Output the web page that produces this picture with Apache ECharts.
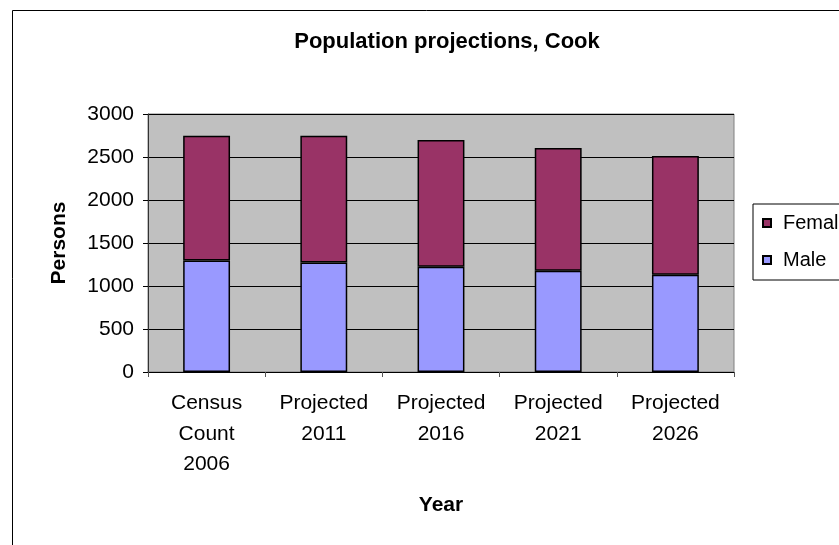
<!DOCTYPE html>
<html>
<head>
<meta charset="utf-8">
<script src="https://cdn.jsdelivr.net/npm/echarts@6/dist/echarts.min.js"></script>
<style>html,body{margin:0;padding:0;background:#fff}#c{width:839px;height:545px}</style>
</head>
<body>
<div id="c"></div>
<script>
var categories = ['Census\nCount\n2006', 'Projected\n2011', 'Projected\n2016', 'Projected\n2021', 'Projected\n2026'];
var male = [1297, 1273, 1225, 1178, 1130];
var female = [1451, 1475, 1473, 1427, 1382];
var yTicks = [0, 500, 1000, 1500, 2000, 2500, 3000];

var chart = echarts.init(document.getElementById('c'));
var font = 'Liberation Sans, Arial, sans-serif';
chart.setOption({
  animation: false,
  backgroundColor: '#fff',
  textStyle: {fontFamily: font},
  title: {
    text: 'Population projections, Cook',
    left: 442, top: 26, textAlign: 'center',
    textStyle: {fontFamily: font, fontSize: 22, fontWeight: 'bold', color: '#000'}
  },
  graphic: [{
    type: 'rect', z: -1, silent: true,
    shape: {x: 12.5, y: 10.5, width: 900, height: 600},
    style: {fill: 'none', stroke: '#000', lineWidth: 1}
  }],
  legend: {
    data: ['Female', 'Male'],
    orient: 'vertical',
    left: 753, top: 204,
    padding: [9, 30, 10, 9],
    itemGap: 17,
    itemWidth: 8, itemHeight: 8,
    icon: 'rect',
    borderColor: '#000', borderWidth: 1,
    textStyle: {fontFamily: font, fontSize: 20, color: '#000', padding: [0, 0, 0, 7]}
  },
  grid: {
    left: 148, top: 114, right: 105, bottom: 173,
    show: true, backgroundColor: '#c0c0c0', borderColor: '#808080', borderWidth: 1
  },
  xAxis: {
    type: 'category', data: categories,
    name: 'Year', nameLocation: 'middle', nameGap: 123,
    nameTextStyle: {fontFamily: font, fontSize: 21, fontWeight: 'bold', color: '#000'},
    axisLine: {lineStyle: {color: '#000', width: 1}},
    axisTick: {show: true, length: 5, lineStyle: {color: '#555'}},
    axisLabel: {fontFamily: font, fontSize: 21, color: '#000', margin: 16, lineHeight: 30.5, interval: 0}
  },
  yAxis: {
    type: 'value', min: yTicks[0], max: yTicks[yTicks.length - 1], interval: 500,
    name: 'Persons', nameLocation: 'middle', nameGap: 78, nameRotate: 90,
    nameTextStyle: {fontFamily: font, fontSize: 21, fontWeight: 'bold', color: '#000'},
    axisLine: {show: true, lineStyle: {color: '#333', width: 1}},
    axisTick: {show: true, length: 5, lineStyle: {color: '#000'}},
    axisLabel: {fontFamily: font, fontSize: 21, color: '#000', margin: 14,
      formatter: function (v) { return String(v); }},
    splitLine: {show: true, lineStyle: {color: '#000', width: 1}}
  },
  series: [{
    name: 'Male', type: 'bar', stack: 'total', data: male, barWidth: '40%',
    itemStyle: {color: '#9999ff', borderColor: '#000', borderWidth: 1.5}
  }, {
    name: 'Female', type: 'bar', stack: 'total', data: female, barWidth: '40%',
    itemStyle: {color: '#993366', borderColor: '#000', borderWidth: 1.5}
  }]
});
</script>
</body>
</html>
